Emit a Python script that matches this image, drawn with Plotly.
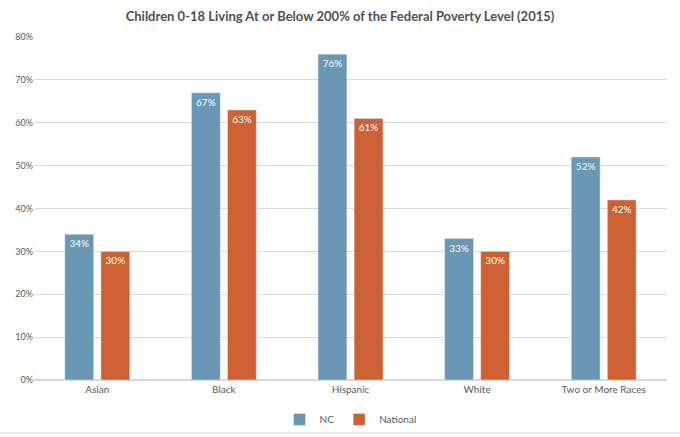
import plotly.graph_objects as go

# data
groups = ["Asian", "Black", "Hispanic", "White", "Two or More Races"]
nc_vals = [0.34, 0.67, 0.76, 0.33, 0.52]
national_vals = [0.30, 0.63, 0.61, 0.30, 0.42]
y_ticks = [0, 0.1, 0.2, 0.3, 0.4, 0.5, 0.6, 0.7, 0.8]

fig = go.Figure()
fig.add_trace(go.Bar(x=groups, y=nc_vals, name="NC", marker_color="#6a97b4",
                     text=[f"{v:.0%}" for v in nc_vals], textposition="inside",
                     insidetextanchor="end", textfont=dict(color="white", size=10)))
fig.add_trace(go.Bar(x=groups, y=national_vals, name="National", marker_color="#cd6134",
                     text=[f"{v:.0%}" for v in national_vals], textposition="inside",
                     insidetextanchor="end", textfont=dict(color="white", size=10)))

fig.update_layout(
    width=680, height=437,
    margin=dict(l=34, r=13, t=37, b=57, autoexpand=False),
    paper_bgcolor="white", plot_bgcolor="white",
    font=dict(family="Lato", size=10, color="#595959"),
    title=dict(text="<b>Children 0-18 Living At or Below 200% of the Federal Poverty Level (2015)</b>",
               x=0.5, xanchor="center", y=0.962, yanchor="middle",
               font=dict(size=13, color="#505050")),
    barmode="group", bargap=0.43, bargroupgap=0.2,
    uniformtext=dict(minsize=9, mode="show"),
    legend=dict(orientation="h", x=0.5, xanchor="center", y=-0.115, yanchor="middle",
                font=dict(size=10), itemwidth=30, traceorder="normal",
                bgcolor="rgba(0,0,0,0)"),
    showlegend=True,
)
fig.update_yaxes(range=[0, 0.8], tickvals=y_ticks, tickformat=".0%", automargin=False,
                 showgrid=True, gridcolor="#d9d9d9", zeroline=True,
                 zerolinecolor="#d9d9d9", ticks="", tickfont=dict(size=9))
fig.update_xaxes(showline=True, linecolor="#d9d9d9", ticks="", automargin=False,
                 tickfont=dict(size=10))
fig.add_shape(type="line", xref="paper", yref="paper", x0=-0.06, x1=1.03, y0=-0.155, y1=-0.155,
              line=dict(color="#d9d9d9", width=1))

# page has a default 8px body margin; drop it so the chart sits at the window corner
fig.write_html("out.html", config={"displayModeBar": False},
               post_script="document.body.style.margin='0';")
